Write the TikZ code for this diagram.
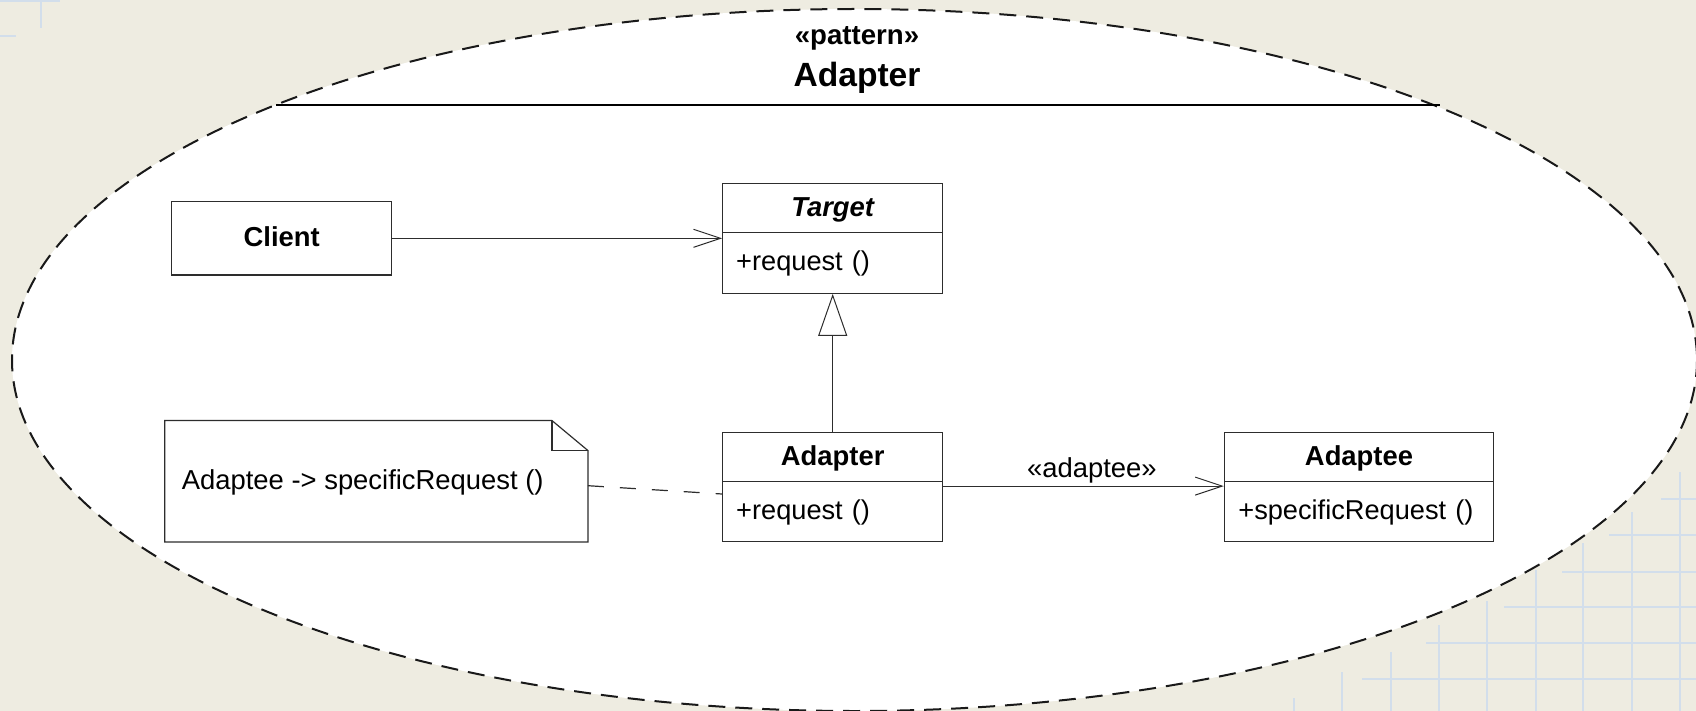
\documentclass[tikz,border=0pt]{standalone}
\usepackage{fontspec}
\setmainfont{Liberation Sans}
\usetikzlibrary{arrows.meta}
\definecolor{bgcol}{RGB}{238,236,225}
\definecolor{gridcol}{RGB}{210,222,235}
\definecolor{linecol}{RGB}{45,45,45}
\tikzset{
  gridline/.style={draw=gridcol, line width=2pt},
  classname/.style={draw=linecol, line width=1.2pt, fill=white, rectangle,
    minimum width=220pt, minimum height=49pt, inner sep=0pt,
    text height=21pt, text depth=5pt,
    font=\fontsize{27.4}{32}\selectfont\bfseries},
  classops/.style={draw=linecol, line width=1.2pt, fill=white, rectangle,
    text width=193pt, align=left, inner xsep=13.5pt, inner ysep=0pt,
    minimum height=60pt, text height=21pt, text depth=5pt,
    font=\fontsize{27.2}{32}\selectfont},
  assoc/.style={draw=linecol, line width=1pt,
    -{Straight Barb[length=27pt, width=18pt, line width=1pt]}},
  gener/.style={draw=linecol, line width=1pt,
    -{Triangle[open, length=42pt, width=29pt, line width=1pt, fill=white]}},
  notelink/.style={draw=linecol, line width=1.2pt, dash pattern=on 16pt off 16pt},
  labeltext/.style={font=\fontsize{27.4}{32}\selectfont, inner sep=0pt},
}
\begin{document}
\begin{tikzpicture}[x=1pt,y=-1pt]
\useasboundingbox (0,0) rectangle (1696,711);
\fill[bgcol] (0,0) rectangle (1696,711);
% background grid fragments
\draw[gridline] (0,1) -- (60,1);
\draw[gridline] (41,0) -- (41,28);
\draw[gridline] (0,36) -- (16,36);
\foreach \x/\y in {1294/698,1342/672,1391/652,1439/625,1487/601,1536/570,1583/543,1632/512,1680/472}
  \draw[gridline] (\x,\y) -- (\x,711);
\foreach \y/\x in {679/1362,643/1426,607/1504,572/1562,535/1609,499/1661}
  \draw[gridline] (\x,\y) -- (1696,\y);
% pattern ellipse
\draw[fill=white, draw=black!90, line width=2pt, dash pattern=on 17pt off 10pt]
  (854.5,360) ellipse [x radius=842.5, y radius=351];
\draw[black, line width=1.6pt] (276,105) -- (1440,105);
\node[font=\fontsize{27.6}{32}\selectfont\bfseries, inner sep=0pt] (stereo) at (857,38) {«pattern»};
\node[font=\fontsize{33.6}{38}\selectfont\bfseries, inner sep=0pt] (title) at (857,77.5) {Adapter};
% classes
\node[classname, minimum height=73.3pt] (client) at (281.7,238.3) {Client};
\node[classname] (target) at (832.7,208.2) {\itshape Target};
\node[classops, minimum height=61pt] (targetops) at (832.7,262.8) {+request ()};
\node[classname] (adapter) at (832.7,457.2) {Adapter};
\node[classops] (adapterops) at (832.7,511.7) {+request ()};
\node[classname, minimum width=269.3pt] (adaptee) at (1359,457.2) {Adaptee};
\node[classops, text width=241.3pt, inner xsep=14pt] (adapteeops) at (1359,511.7) {+specificRequest ()};
% note
\node[minimum width=422.7pt, minimum height=121pt, inner sep=0pt] (note) at (376.35,481.2) {};
\draw[draw=linecol, line width=1.2pt, fill=white]
  (note.north west) -- ([xshift=-36pt]note.north east) -- ([yshift=-30pt]note.north east)
  -- (note.south east) -- (note.south west) -- cycle;
\draw[draw=linecol, line width=1.2pt]
  ([xshift=-36pt]note.north east) -- ([xshift=-36pt,yshift=-30pt]note.north east)
  -- ([yshift=-30pt]note.north east);
\node[font=\fontsize{27.4}{32}\selectfont, inner sep=0pt, anchor=base west] (notetext)
  at (181.7,489.3) {Adaptee -> specificRequest ()};
% connectors
\draw[assoc] (client.east) -- (client.east -| targetops.west);
\draw[gener] (adapter.north) -- (targetops.south);
\draw[assoc] ([yshift=-5pt]adapterops.north east) -- ([yshift=-5pt]adapteeops.north west)
  node[labeltext, pos=0.53, anchor=base, yshift=9pt] (lbl) {«adaptee»};
\draw[notelink] ([yshift=-4.5pt]note.east) -- ([yshift=17.7pt]adapterops.west);
\end{tikzpicture}
\end{document}
